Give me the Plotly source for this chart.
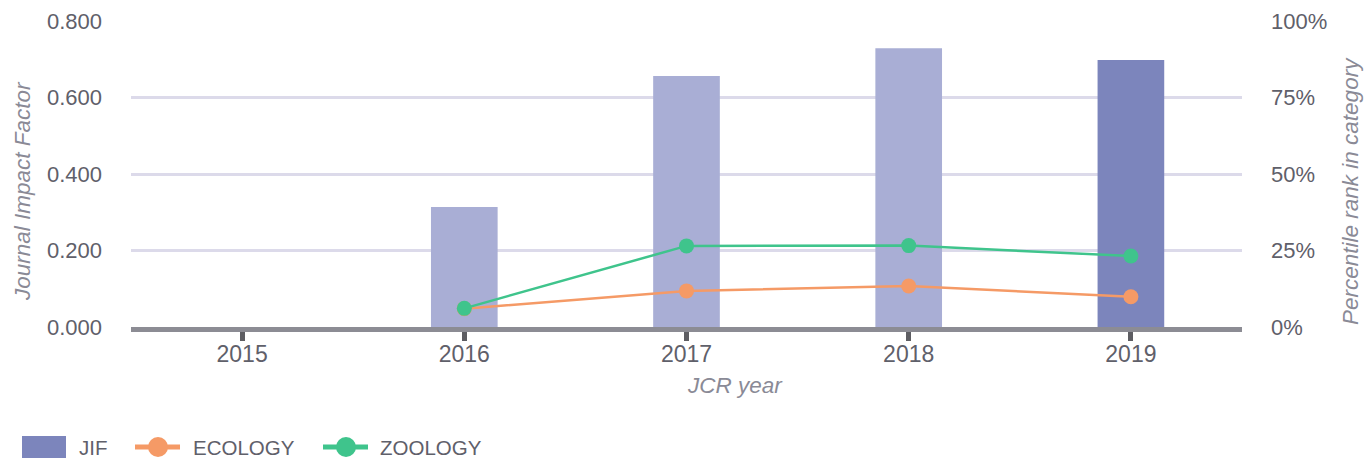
import plotly.graph_objects as go

years = ["2015", "2016", "2017", "2018", "2019"]
jif = [None, 0.314, 0.656, 0.729, 0.698]
ecology = [None, 6.0, 11.8, 13.4, 9.9]
zoology = [None, 6.1, 26.5, 26.6, 23.2]
bar_colors = ["#a9aed5", "#a9aed5", "#a9aed5", "#a9aed5", "#7c85bc"]
left_ticks = [0, 0.2, 0.4, 0.6, 0.8]
left_labels = ["0.000", "0.200", "0.400", "0.600", "0.800"]
right_ticks = [0, 25, 50, 75, 100]
right_labels = ["0%", "25%", "50%", "75%", "100%"]
legend_names = ["JIF", "ECOLOGY", "ZOOLOGY"]

FONT = "Liberation Sans, Arial, sans-serif"
TICK_COLOR = "#5f606a"
TITLE_COLOR = "#8a8a96"
ORANGE = "#f59a66"
GREEN = "#3fc48c"

OFF = 8  # page body margin
W, H = 1372 - OFF, 460 - OFF
L, T = 131 - OFF, 21 - OFF
PW, PH = 1111, 306
R, B = W - L - PW, H - T - PH


def px(x):
    return (x - OFF - L) / PW


def py(y):
    return (T + PH - (y - OFF)) / PH


fig = go.Figure()
fig.add_trace(go.Bar(
    x=years, y=jif, name="JIF", width=0.3,
    marker=dict(color=bar_colors, line=dict(width=0)),
    yaxis="y", showlegend=False,
))
fig.add_trace(go.Scatter(
    x=years, y=ecology, name="ECOLOGY", mode="lines+markers",
    line=dict(color=ORANGE, width=2.5), marker=dict(size=15, color=ORANGE),
    yaxis="y2", showlegend=False,
))
fig.add_trace(go.Scatter(
    x=years, y=zoology, name="ZOOLOGY", mode="lines+markers",
    line=dict(color=GREEN, width=2.5), marker=dict(size=15, color=GREEN),
    yaxis="y2", showlegend=False,
))

# custom legend (layout decoration)
ly = 447
shapes = [
    dict(type="rect", xref="paper", yref="paper", x0=px(22), x1=px(66), y0=py(458), y1=py(436),
         fillcolor="#7c85bc", line=dict(width=0)),
]
annotations = []
for color, x0 in [(ORANGE, 135), (GREEN, 323)]:
    shapes.append(dict(type="line", xref="paper", yref="paper", x0=px(x0), x1=px(x0 + 45),
                       y0=py(ly), y1=py(ly), line=dict(color=color, width=5)))
    cx = x0 + 23
    shapes.append(dict(type="circle", xref="paper", yref="paper", x0=px(cx - 10), x1=px(cx + 10),
                       y0=py(ly + 10), y1=py(ly - 10), fillcolor=color, line=dict(width=0)))
for name, tx in zip(legend_names, [77, 191, 378]):
    annotations.append(dict(text=name, xref="paper", yref="paper", x=px(tx), y=py(ly),
                            xanchor="left", yanchor="middle", showarrow=False,
                            font=dict(size=20.5, color=TICK_COLOR, family=FONT)))

# axis titles
annotations.append(dict(text="<i>JCR year</i>", xref="paper", yref="paper", x=px(735), y=py(385),
                        xanchor="center", yanchor="middle", showarrow=False,
                        font=dict(size=22.5, color=TITLE_COLOR, family=FONT)))
annotations.append(dict(text="<i>Journal Impact Factor</i>", xref="paper", yref="paper", x=px(22), y=py(191),
                        xanchor="center", yanchor="middle", showarrow=False, textangle=-90,
                        font=dict(size=22.5, color=TITLE_COLOR, family=FONT)))
annotations.append(dict(text="<i>Percentile rank in category</i>", xref="paper", yref="paper", x=px(1350), y=py(191),
                        xanchor="center", yanchor="middle", showarrow=False, textangle=-90,
                        font=dict(size=22.5, color=TITLE_COLOR, family=FONT)))

fig.update_layout(
    width=W, height=H,
    margin=dict(l=L, r=R, t=T, b=B, autoexpand=False),
    paper_bgcolor="white", plot_bgcolor="white",
    font=dict(family=FONT, size=22, color=TICK_COLOR),
    showlegend=False,
    shapes=shapes, annotations=annotations,
    xaxis=dict(
        type="category", range=[-0.5, 4.5],
        showline=True, linecolor="#8c8c94", linewidth=5,
        ticks="outside", ticklen=9, tickwidth=5, tickcolor="#5d5d62",
        tickfont=dict(size=23, color=TICK_COLOR), ticklabelstandoff=-7,
        showgrid=False, automargin=False,
    ),
    yaxis=dict(
        range=[0, 0.8], tickvals=left_ticks, ticktext=left_labels,
        showgrid=True, gridcolor="#dcdaea", gridwidth=2.5,
        zeroline=False, showline=False, automargin=False,
        tickfont=dict(size=22, color=TICK_COLOR), ticklabelstandoff=28,
    ),
    yaxis2=dict(
        overlaying="y", side="right", range=[0, 100],
        tickvals=right_ticks, ticktext=right_labels,
        showgrid=False, zeroline=False, showline=False, automargin=False,
        tickfont=dict(size=22, color=TICK_COLOR), ticklabelstandoff=28,
    ),
)

fig.write_html("out.html")
